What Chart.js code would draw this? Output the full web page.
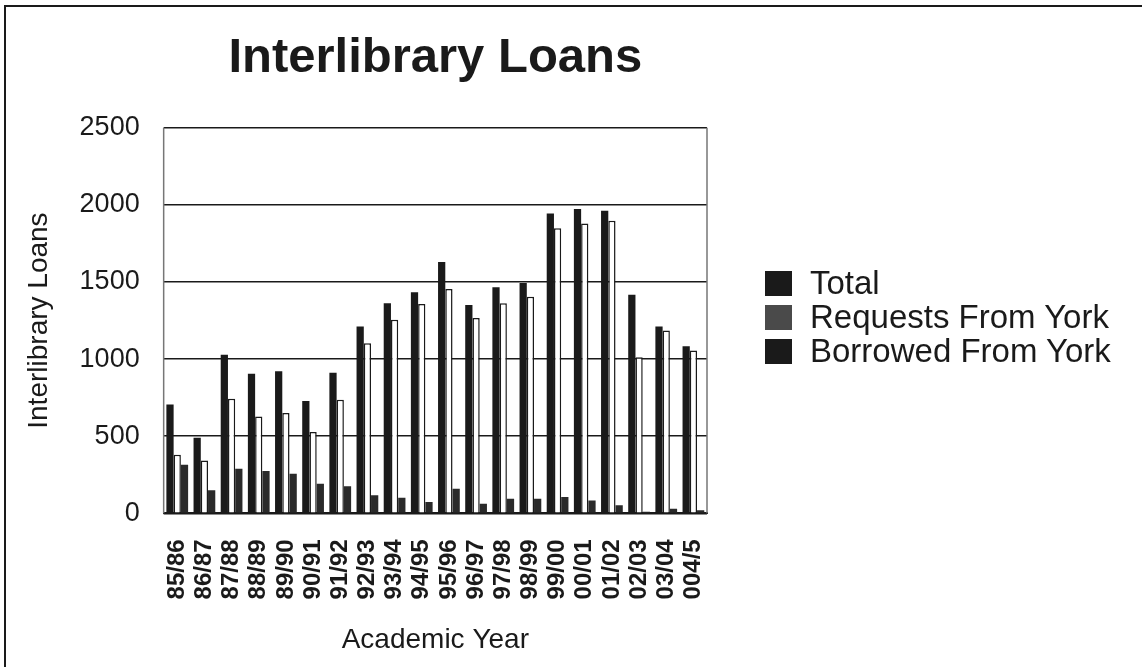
<!DOCTYPE html>
<html>
<head>
<meta charset="utf-8">
<script src="https://cdn.jsdelivr.net/npm/chart.js@4.4.0/dist/chart.umd.min.js"></script>
<style>
  html, body { margin: 0; padding: 0; background: #fff; }
  #wrap { position: relative; width: 1142px; height: 667px; }
  #legend {
    position: absolute; left: 765px; top: 266px;
    font-family: 'Liberation Sans', Arial, sans-serif; font-size: 33px; color: #1a1a1a;
  }
  #legend .item { display: flex; align-items: center; height: 34px; white-space: nowrap; }
  #legend .box { width: 27px; height: 25px; margin-right: 18px; }
</style>
</head>
<body>
<div id="wrap">
  <canvas id="loansChart" width="1142" height="667"></canvas>
  <div id="legend"></div>
</div>
<script>
const years = ['85/86', '86/87', '87/88', '88/89', '89/90', '90/91', '91/92', '92/93', '93/94', '94/95',
  '95/96', '96/97', '97/98', '98/99', '99/00', '00/01', '01/02', '02/03', '03/04', '004/5'];
const total = [706, 490, 1028, 905, 922, 728, 911, 1211, 1362, 1433,
  1630, 1351, 1466, 1494, 1945, 1973, 1962, 1418, 1211, 1084];
const requests = [380, 343, 743, 628, 650, 527, 736, 1103, 1256, 1358,
  1455, 1267, 1362, 1405, 1848, 1880, 1898, 1012, 1185, 1056];
const borrowed = [315, 149, 289, 274, 257, 192, 175, 117, 101, 73,
  160, 63, 95, 95, 106, 84, 52, 10, 30, 20];
const yTicks = [0, 500, 1000, 1500, 2000, 2500];

const ink = '#1a1a1a';
const swatches = [ink, '#4a4a4a', ink];

// thin frame round the scan and grey sides on the plot
const framePlugin = {
  id: 'frame',
  afterDraw(chart) {
    const ctx = chart.ctx;
    const a = chart.chartArea;
    ctx.save();
    ctx.strokeStyle = '#777';
    ctx.lineWidth = 1.5;
    ctx.beginPath();
    ctx.moveTo(a.left, a.top);
    ctx.lineTo(a.left, a.bottom);
    ctx.moveTo(a.right, a.top);
    ctx.lineTo(a.right, a.bottom);
    ctx.stroke();
    ctx.strokeStyle = ink;
    ctx.lineWidth = 2;
    ctx.beginPath();
    ctx.moveTo(5, 667);
    ctx.lineTo(5, 6);
    ctx.lineTo(1142, 6);
    ctx.stroke();
    ctx.restore();
  }
};

const chart = new Chart(document.getElementById('loansChart').getContext('2d'), {
  type: 'bar',
  data: {
    labels: years,
    datasets: [{
      label: 'Total',
      data: total,
      backgroundColor: ink,
      borderWidth: 0
    }, {
      label: 'Requests From York',
      data: requests,
      backgroundColor: '#ffffff',
      borderColor: ink,
      borderWidth: 1.5
    }, {
      label: 'Borrowed From York',
      data: borrowed,
      backgroundColor: '#2a2a2a',
      borderWidth: 0
    }]
  },
  options: {
    responsive: false,
    animation: false,
    devicePixelRatio: 1,
    layout: {
      padding: { left: 22, right: 435, top: 0, bottom: 10 }
    },
    datasets: {
      bar: {
        categoryPercentage: 0.8,
        barPercentage: 1.0
      }
    },
    plugins: {
      title: {
        display: true,
        fullSize: false,
        text: 'Interlibrary Loans',
        color: ink,
        font: { family: 'Liberation Sans', size: 49, weight: 'bold' },
        padding: { top: 29, bottom: 40 }
      },
      legend: { display: false },
      tooltip: { enabled: false }
    },
    scales: {
      x: {
        grid: { display: false },
        border: { display: true, color: ink, width: 2 },
        ticks: {
          color: ink,
          font: { family: 'Liberation Sans', size: 24, weight: 'bold' },
          minRotation: 90,
          maxRotation: 90,
          autoSkip: false,
          padding: 18
        },
        title: {
          display: true,
          text: 'Academic Year',
          color: ink,
          font: { family: 'Liberation Sans', size: 28 },
          padding: { top: 6, bottom: 0 }
        }
      },
      y: {
        min: 0,
        max: 2500,
        afterBuildTicks(axis) {
          axis.ticks = yTicks.map(v => ({ value: v }));
        },
        grid: { color: ink, lineWidth: 1.5, tickLength: 0 },
        border: { display: false },
        ticks: {
          color: ink,
          font: { family: 'Liberation Sans', size: 27 },
          padding: 24,
          callback: v => String(v)
        },
        title: {
          display: true,
          text: 'Interlibrary Loans',
          color: ink,
          font: { family: 'Liberation Sans', size: 28 },
          padding: { top: 0, bottom: 0 }
        }
      }
    }
  },
  plugins: [framePlugin]
});

// legend built from the chart's own datasets
const legendEl = document.getElementById('legend');
chart.data.datasets.forEach((ds, i) => {
  const item = document.createElement('div');
  item.className = 'item';
  const box = document.createElement('span');
  box.className = 'box';
  box.style.background = swatches[i];
  const label = document.createElement('span');
  label.textContent = ds.label;
  item.appendChild(box);
  item.appendChild(label);
  legendEl.appendChild(item);
});
</script>
</body>
</html>
